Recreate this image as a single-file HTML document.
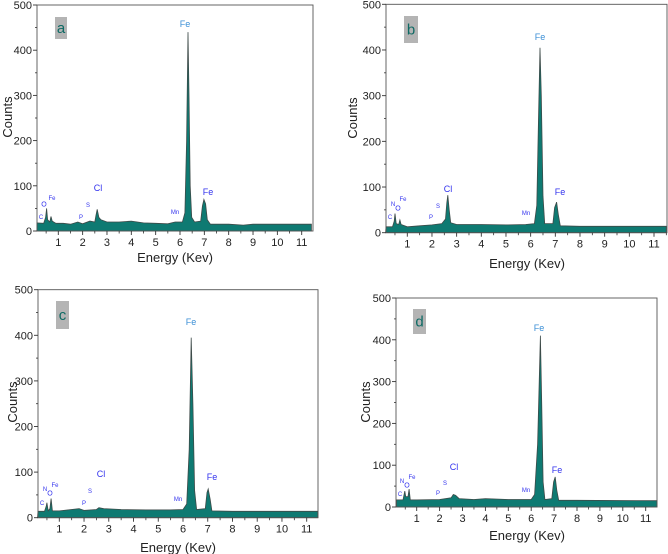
<!DOCTYPE html>
<html><head><meta charset="utf-8">
<style>
html,body{margin:0;padding:0;background:#fff;}
svg{display:block;font-family:"Liberation Sans",sans-serif;}
</style></head>
<body>
<svg id="chart" width="668" height="554" viewBox="0 0 668 554" xmlns="http://www.w3.org/2000/svg"></svg>
<script>
// ---- data (energy keV, counts) ----
const energyA = [0.12,0.4,0.48,0.52,0.56,0.65,0.7,0.75,0.9,1.2,1.5,1.8,2.0,2.3,2.5,2.55,2.6,2.67,2.75,3.0,3.5,4.0,4.5,5.0,5.5,5.8,6.1,6.2,6.27,6.33,6.37,6.42,6.48,6.6,6.85,6.92,6.98,7.05,7.12,7.25,8,8.6,9,10,11.4];
const countsA = [18,17,30,50,25,20,32,22,17,17,15,20,16,22,20,35,48,30,25,20,20,22,18,17,16,20,20,40,200,440,300,100,30,20,22,55,70,60,25,15,15,13,15,15,15];
const energyB = [0.12,0.4,0.47,0.5,0.55,0.65,0.7,0.75,1,1.5,2,2.4,2.55,2.6,2.64,2.7,2.76,3,4,5,5.8,6.15,6.25,6.32,6.38,6.43,6.5,6.57,6.9,6.97,7.05,7.12,7.2,8,11.5];
const countsB = [13,13,25,42,20,18,28,18,13,15,17,20,30,65,82,50,22,18,18,17,18,20,60,250,405,300,80,20,20,55,67,40,15,14,14];
const energyC = [0.12,0.4,0.47,0.5,0.55,0.62,0.67,0.72,1,1.8,2,2.5,2.6,2.8,3.5,4.5,5.5,6.0,6.15,6.25,6.33,6.4,6.47,6.55,6.9,6.97,7.02,7.1,7.17,8,11.45];
const countsC = [14,14,25,33,15,20,42,15,15,20,16,18,22,20,18,17,17,18,30,150,395,250,60,18,20,55,63,40,15,14,14];
const energyD = [0.12,0.4,0.48,0.52,0.62,0.67,0.72,1,2,2.5,2.6,2.7,2.85,3.5,4,5,6,6.15,6.28,6.4,6.46,6.52,6.6,6.9,6.98,7.05,7.12,7.2,8,11.5];
const countsD = [17,17,38,25,25,43,17,17,18,22,30,28,20,18,20,18,18,30,150,410,250,60,18,20,60,72,40,16,16,15];
const yTicks = [0,100,200,300,400,500];
const xTicks = [1,2,3,4,5,6,7,8,9,10,11];

const panels = [
 {id:'a',L:37,R:313,T:5,B:231,x1:58.3,x11:301.7,E:energyA,C:countsA,
  box:[55,17,12,22],xt:[175,257],yt:[8,117],
  labels:[['Fe',185,24,9,'#3b8fd6'],['Cl',98,188,9,'#3333ee'],['Fe',208,192,9,'#3333ee'],['O',44,204,7,'#3333ee'],['Fe',52,198,6,'#3333ee'],['C',41,217,6,'#3333ee'],['P',81,217,6,'#3333ee'],['S',88,205,6,'#3333ee'],['Mn',175,212,6,'#3333ee']]},
 {id:'b',L:386,R:667,T:4.3,B:232.7,x1:407.3,x11:654,E:energyB,C:countsB,
  box:[404,16,14,27],xt:[527,263],yt:[353,118],
  labels:[['Fe',540,37,9,'#3b8fd6'],['Cl',448,189,9,'#3333ee'],['Fe',560,192,9,'#3333ee'],['N',393,204,6,'#3333ee'],['O',398,208,7,'#3333ee'],['Fe',403,199,6,'#3333ee'],['C',390,217,6,'#3333ee'],['P',431,217,6,'#3333ee'],['S',438,206,6,'#3333ee'],['Mn',526,213,6,'#3333ee']]},
 {id:'c',L:38,R:318,T:289.7,B:517.7,x1:59.3,x11:306.7,E:energyC,C:countsC,
  box:[56,301,13,28],xt:[178,547],yt:[13,402],
  labels:[['Fe',191,322,9,'#3b8fd6'],['Cl',101,474,9,'#3333ee'],['Fe',212,477,9,'#3333ee'],['N',45,489,6,'#3333ee'],['O',50,493,7,'#3333ee'],['Fe',55,485,6,'#3333ee'],['C',42,503,6,'#3333ee'],['P',84,503,6,'#3333ee'],['S',90,491,6,'#3333ee'],['Mn',178,499,6,'#3333ee']]},
 {id:'d',L:396,R:657,T:298,B:507,x1:416.7,x11:645.7,E:energyD,C:countsD,
  box:[413,309,13,25],xt:[527,535],yt:[366,402],
  labels:[['Fe',539,328,9,'#3b8fd6'],['Cl',454,467,9,'#3333ee'],['Fe',557,470,9,'#3333ee'],['N',402,481,6,'#3333ee'],['O',407,485,7,'#3333ee'],['Fe',412,477,6,'#3333ee'],['C',400,494,6,'#3333ee'],['P',438,493,6,'#3333ee'],['S',445,483,6,'#3333ee'],['Mn',526,490,6,'#3333ee']]}
];

const NS='http://www.w3.org/2000/svg';
const svg=document.getElementById('chart');
function mk(tag,attrs,parent){const e=document.createElementNS(NS,tag);for(const k in attrs)e.setAttribute(k,attrs[k]);(parent||svg).appendChild(e);return e;}

panels.forEach(p=>{
  const g=mk('g',{});
  
  
  const kx=(p.x11-p.x1)/10;
  const sx=e=>p.x1+(e-1)*kx;
  const sy=v=>p.B-(v/500)*(p.B-p.T);
  // spectrum
  let d='M'+sx(p.E[0]).toFixed(1)+','+p.B;
  for(let i=0;i<p.E.length;i++){
    const x=Math.min(p.R,Math.max(p.L,sx(p.E[i])));
    d+=' L'+x.toFixed(1)+','+sy(p.C[i]).toFixed(1);
  }
  d+=' L'+Math.min(p.R,sx(p.E[p.E.length-1])).toFixed(1)+','+p.B+' Z';
  const sp=mk('path',{d:d,fill:'#0e7a72',stroke:'#3d4a48','stroke-width':'0.8'},g);
  
  
  // frame
  const fr=mk('rect',{x:p.L,y:p.T,width:p.R-p.L,height:p.B-p.T,fill:'none',stroke:'#555','stroke-width':'0.9'},g);
  
  
  // y ticks
  yTicks.forEach(v=>{
    const y=sy(v);
    mk('line',{x1:p.L-4,x2:p.L,y1:y,y2:y,stroke:'#333','stroke-width':'0.9'},g);
    if(v<500) mk('line',{x1:p.L-2,x2:p.L,y1:sy(v+50),y2:sy(v+50),stroke:'#333','stroke-width':'0.8'},g);
    const t=mk('text',{x:p.L-5,y:y+4,'font-size':'11','text-anchor':'end',fill:'#222'},g);
    t.textContent=v;
    
    
  });
  // x ticks
  xTicks.forEach(v=>{
    const x=sx(v);
    mk('line',{x1:x,x2:x,y1:p.B,y2:p.B+4,stroke:'#333','stroke-width':'0.9'},g);
    const xm=sx(v+0.5); if(xm<p.R) mk('line',{x1:xm,x2:xm,y1:p.B,y2:p.B+2.5,stroke:'#333','stroke-width':'0.8'},g);
    const t=mk('text',{x:x,y:p.B+15,'font-size':'11','text-anchor':'middle',fill:'#222'},g);
    t.textContent=v;
    
    
  });
  const xm0=sx(0.5); if(xm0>p.L) mk('line',{x1:xm0,x2:xm0,y1:p.B,y2:p.B+2.5,stroke:'#333','stroke-width':'0.8'},g);
  // axis titles
  const xt=mk('text',{x:p.xt[0],y:p.xt[1]+5,'font-size':'13','text-anchor':'middle',fill:'#222'},g);
  xt.textContent='Energy (Kev)';
  
  
  const yt=mk('text',{x:p.yt[0]+4,y:p.yt[1],'font-size':'13','text-anchor':'middle',fill:'#222',transform:'rotate(-90 '+(p.yt[0]+4)+' '+p.yt[1]+')'},g);
  yt.textContent='Counts';
  
  
  // panel letter box
  const bx=mk('rect',{x:p.box[0],y:p.box[1],width:p.box[2],height:p.box[3],fill:'#b4b4b4'},g);
  
  
  const bt=mk('text',{x:p.box[0]+p.box[2]/2,y:p.box[1]+p.box[3]/2+5,'font-size':'15','text-anchor':'middle',fill:'#0e6a64'},g);
  bt.textContent=p.id;
  
  
  // element labels
  p.labels.forEach(l=>{
    const t=mk('text',{x:l[1],y:l[2]+l[3]*0.35,'font-size':l[3],'text-anchor':'middle',fill:l[4]},g);
    t.textContent=l[0];
    
    
  });
});
</script>
</body></html>
